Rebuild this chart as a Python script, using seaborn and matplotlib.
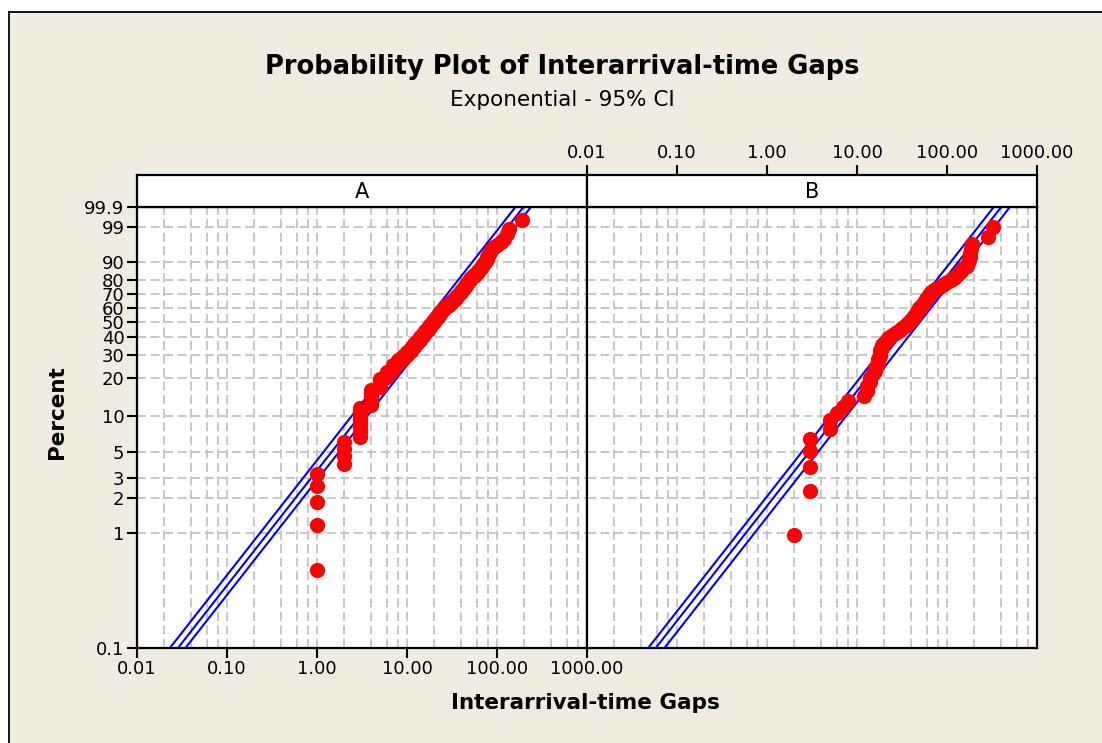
import numpy as np
import pandas as pd
import matplotlib
matplotlib.use("Agg")
import matplotlib.pyplot as plt
import seaborn as sns
from matplotlib.patches import Rectangle
from matplotlib.lines import Line2D
from matplotlib.ticker import FixedLocator, NullLocator, FixedFormatter

# ---------------- data ----------------
groups = ["A", "B"]

gaps_A = [1, 1, 1, 1, 1,
          2, 2, 2, 2,
          3, 3, 3, 3, 3, 3, 3, 3,
          4, 4, 4, 4, 4, 4, 4,
          5, 5, 5, 5, 5,
          6, 6, 6, 6,
          7, 7, 7, 7,
          8, 8, 8,
          9, 9, 9,
          10, 10, 10,
          11, 11, 11, 12, 12, 12, 13, 13, 13, 14, 14, 14, 15, 15, 15,
          16, 16, 16, 17, 17, 17, 18, 18, 18, 19, 19, 20, 20, 20, 21, 21,
          22, 22, 22, 23, 23, 23,
          24, 25, 25, 26, 27, 28, 28, 29, 30, 31, 31, 32, 33, 34, 35, 35,
          36, 37, 38, 39, 40, 40, 41, 42, 43, 44, 44, 45, 46, 47, 48, 49,
          50, 50, 51,
          53, 55, 56, 58, 60, 61, 63, 65, 66, 68, 70, 71, 73, 75, 77, 78,
          80, 82, 83, 85,
          92, 100, 110, 120, 128, 135, 190]

gaps_B = [2, 3, 3, 3, 3, 5, 5, 6, 7, 8,
          12, 13, 13, 14, 14, 15, 16,
          16, 17, 17, 17, 18, 18, 18, 19, 19,
          20, 21, 22,
          24, 26, 28, 30, 32, 34, 36, 38, 40, 42, 43, 45, 46, 48, 49, 51,
          53, 55, 57, 59, 61, 63, 65, 67,
          72, 78, 85, 92, 100, 110, 120, 128, 135, 142, 150,
          165, 172, 176, 178, 180, 184, 190,
          285, 325]

# fitted exponential scale and its 95% CI
theta_fit = {"A": 28.5, "B": 58.0}
theta_low = {"A": 23.2, "B": 47.9}
theta_high = {"A": 34.5, "B": 72.5}

pct_ticks = [0.1, 1, 2, 3, 5, 10, 20, 30, 40, 50, 60, 70, 80, 90, 99, 99.9]
pct_labels = ["0.1", "1", "2", "3", "5", "10", "20", "30", "40", "50",
              "60", "70", "80", "90", "99", "99.9"]
x_ticks = [0.01, 0.1, 1, 10, 100, 1000]
x_labels = ["0.01", "0.10", "1.00", "10.00", "100.00", "1000.00"]


# ---------------- helpers ----------------
def median_rank_pct(values):
    v = np.sort(np.asarray(values, float))
    n = len(v)
    i = np.arange(1, n + 1)
    return v, (i - 0.3) / (n + 0.4) * 100.0


def fwd(p):
    p = np.clip(np.asarray(p, float), 1e-9, 100 - 1e-9)
    return np.log10(-np.log1p(-p / 100.0))


def inv(t):
    t = np.asarray(t, float)
    return -np.expm1(-np.power(10.0, t)) * 100.0


plt.rcParams["font.family"] = ["DejaVu Sans"]

W, H = 1102, 743
fig = plt.figure(figsize=(W / 100, H / 100), dpi=100, facecolor="white")
BG = "#EFEBE1"
fig.patches.append(Rectangle((9 / W, 0), 1.0, (H - 12) / H,
                             transform=fig.transFigure, facecolor=BG,
                             edgecolor="none", zorder=-10))
fig.lines.append(Line2D([9 / W, 9 / W], [0, (H - 12) / H], color="black",
                        lw=1.3, transform=fig.transFigure))
fig.lines.append(Line2D([9 / W, 1], [(H - 12) / H, (H - 12) / H],
                        color="black", lw=1.3, transform=fig.transFigure))


def fx(px):
    return px / W


def fy(py):
    return 1 - py / H


left_px = {"A": 137, "B": 587}
panel_w = 450
top_px, bot_px = 207, 648

minor_x = [m * 10.0 ** e for e in range(-2, 3) for m in (2, 4, 6, 8)]
grid_kw = dict(color="#c4c4c4", lw=1.3, linestyle=(0, (5, 2.5)))

frames = {"A": gaps_A, "B": gaps_B}
for g in groups:
    ax = fig.add_axes([fx(left_px[g]), fy(bot_px), panel_w / W,
                       (bot_px - top_px) / H])
    ax.set_facecolor("white")
    ax.set_xscale("log")
    ax.set_yscale("function", functions=(fwd, inv))
    ax.set_xlim(0.01, 1000)
    ax.set_ylim(0.1, 99.9)
    ax.xaxis.set_major_locator(FixedLocator(x_ticks))
    ax.xaxis.set_major_formatter(FixedFormatter(x_labels))
    ax.xaxis.set_minor_locator(FixedLocator(minor_x))
    ax.yaxis.set_major_locator(FixedLocator(pct_ticks))
    ax.yaxis.set_major_formatter(FixedFormatter(pct_labels))
    ax.yaxis.set_minor_locator(NullLocator())
    ax.grid(True, which="both", **grid_kw)
    ax.set_axisbelow(True)
    ax.tick_params(which="minor", length=0)
    ax.tick_params(which="major", direction="out", length=7, width=1.5,
                   labelsize=13, pad=2, colors="black")
    for s in ax.spines.values():
        s.set_linewidth(1.6)
        s.set_color("black")
    if g == "B":
        ax.tick_params(left=False, labelleft=False, bottom=False,
                       labelbottom=False)

    # fitted line and CI bands
    p_line = np.array([0.02, 99.99])
    base = -np.log1p(-p_line / 100.0)
    for th in (theta_low[g], theta_fit[g], theta_high[g]):
        line_df = pd.DataFrame({"gap": th * base, "pct": p_line})
        sns.lineplot(data=line_df, x="gap", y="pct", ax=ax, color="#0000FF",
                     lw=1.5, sort=False, estimator=None, legend=False, zorder=3)

    v, pct = median_rank_pct(frames[g])
    pts = pd.DataFrame({"gap": v, "pct": pct})
    sns.scatterplot(data=pts, x="gap", y="pct", ax=ax, color="#FF0000",
                    s=120, linewidth=0, legend=False, zorder=4)
    ax.set_xlabel("")
    ax.set_ylabel("")

    # strip header
    st = fig.add_axes([fx(left_px[g]), fy(top_px), panel_w / W, 32 / H])
    st.set_facecolor("white")
    st.set_yticks([])
    st.set_xscale("log")
    st.set_xlim(0.01, 1000)
    st.xaxis.set_minor_locator(NullLocator())
    for s in st.spines.values():
        s.set_linewidth(1.6)
        s.set_color("black")
    st.text(0.5, 0.47, g, ha="center", va="center", fontsize=15,
            transform=st.transAxes)
    if g == "B":
        st.xaxis.set_major_locator(FixedLocator(x_ticks))
        st.xaxis.set_major_formatter(FixedFormatter(x_labels))
        st.tick_params(axis="x", which="major", top=True, bottom=False,
                       labeltop=True, labelbottom=False, direction="out",
                       length=7, width=1.5, labelsize=13, pad=2)
    else:
        st.set_xticks([])

fig.text(fx(562), fy(67), "Probability Plot of Interarrival-time Gaps",
         ha="center", va="center", fontsize=18.5, fontweight="bold")
fig.text(fx(562), fy(100), "Exponential - 95% CI", ha="center", va="center",
         fontsize=15.5)
fig.text(fx(585), fy(703), "Interarrival-time Gaps", ha="center",
         va="center", fontsize=15.5, fontweight="bold")
fig.text(fx(57), fy(412), "Percent", ha="center", va="center",
         rotation=90, fontsize=15.5, fontweight="bold")

fig.savefig("out.png", dpi=100, facecolor=fig.get_facecolor())
